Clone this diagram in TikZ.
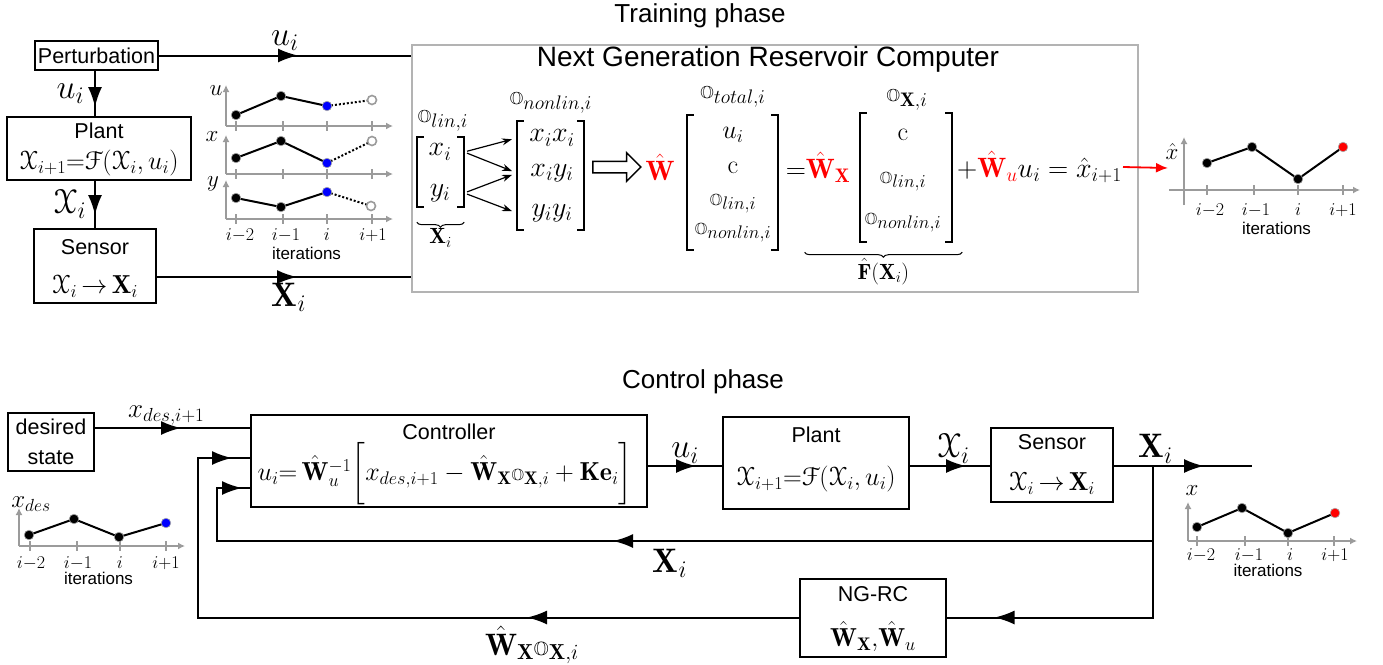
\documentclass[tikz,border=0pt]{standalone}
\usepackage{fix-cm}
\usepackage{fontspec}
\usepackage{amsmath,amssymb}
\usepackage[mathcal]{eucal}
\setsansfont{Liberation Sans}
\usetikzlibrary{positioning,arrows.meta,calc,shapes.arrows,decorations.pathreplacing,decorations.markings}

\definecolor{axisgray}{HTML}{9B9B9B}
\definecolor{framegray}{HTML}{B3B3B3}
\definecolor{wred}{HTML}{FF0000}
\definecolor{nowblue}{HTML}{0000FF}

\newcommand{\Obb}{\mathord{\scalebox{0.62}{$\mathbb{O}$}}}
\newcommand{\plantlaw}{\mathcal{X}_{i+1}{=}\mathcal{F}(\mathcal{X}_i,u_i)}
\newcommand{\sensormap}{\mathcal{X}_i\,{\to}\,\mathbf{X}_i}
\newcommand{\Wxhat}{\hat{\mathbf{W}}_{\mathbf{X}}}
\newcommand{\Wuhat}{\hat{\mathbf{W}}_{u}}

% bracket pair round an empty vector node
\newcommand{\vecbrackets}[1]{%
  \draw[bracket] ([xshift=7pt]#1.north west) -- (#1.north west) -- (#1.south west) -- ([xshift=7pt]#1.south west);
  \draw[bracket] ([xshift=-7pt]#1.north east) -- (#1.north east) -- (#1.south east) -- ([xshift=-7pt]#1.south east);
}

% axes of a small series panel: y-axis x, x-axis y, y-axis top, x-axis end, overhang, ticks
\newcommand{\panelaxes}[6]{%
  \draw[axisline] ({#1-#5},#2) -- (#4,#2);
  \draw[axisline] (#1,{#2+#5}) -- (#1,#3);
  \foreach \t in {#6} \draw[axistick] (\t,{#2-5}) -- (\t,{#2+5});
}

% iteration labels under a panel: prefix, four x positions, label row, caption row
\newcommand{\iterlabels}[7]{%
  \node[ticklab] (#1m2) at (#2,#6) {$i{-}2$};
  \node[ticklab] (#1m1) at (#3,#6) {$i{-}1$};
  \node[ticklab] (#1i) at (#4,#6) {$i$};
  \node[ticklab] (#1p1) at (#5,#6) {$i{+}1$};
  \node[iterlab] (#1it) at ({(#2+#5)/2},#7) {iterations};
}

\begin{document}
\begin{tikzpicture}[x=1pt, y=-1pt,
  blk/.style={draw, line width=2pt, inner sep=0pt},
  blktext/.style={font=\sffamily\fontsize{21.5}{26}\selectfont, inner sep=1pt},
  phase/.style={font=\sffamily\fontsize{26}{30}\selectfont},
  sig/.style={line width=2pt},
  flowarrow/.style={postaction={decorate, decoration={markings,
      mark=at position #1 with {\arrow{Latex[length=20pt,width=14pt]}}}}},
  siglab/.style={font=\fontsize{34}{36}\selectfont, inner sep=2pt},
  eqn/.style={font=\fontsize{26}{30}\selectfont, inner sep=1pt},
  weq/.style={font=\fontsize{28}{30}\selectfont, inner sep=1pt},
  entry/.style={font=\fontsize{28}{30}\selectfont, inner sep=1pt},
  subentry/.style={font=\fontsize{26}{28}\selectfont, inner sep=1pt},
  vecframe/.style={inner sep=0pt},
  bracket/.style={line width=1.6pt},
  brc/.style={decorate, decoration={brace, mirror, amplitude=5pt}, line width=1pt},
  fan/.style={line width=1.2pt, -{Stealth[length=10pt,width=7pt]},
    shorten <=3pt, shorten >=5pt},
  axisline/.style={draw=axisgray, line width=2pt, -{Latex[length=7pt,width=7pt]}},
  axistick/.style={draw=axisgray, line width=1.5pt},
  trace/.style={line width=2pt},
  ticklab/.style={font=\fontsize{18}{20}\selectfont, inner sep=0pt},
  iterlab/.style={font=\sffamily\fontsize{17}{19}\selectfont, inner sep=0pt},
  axlab/.style={font=\fontsize{23}{24}\selectfont, inner sep=0pt},
  pastdot/.style={fill=black, draw=gray!70, line width=0.6pt},
  nowdot/.style={fill=nowblue, draw=gray!70, line width=0.6pt},
  predot/.style={fill=wred, draw=gray!70, line width=0.6pt},
  nextdot/.style={fill=white, draw=axisgray, line width=1.6pt},
  ]
  \useasboundingbox (0,0) rectangle (1383,664);

  %% ---------------- training phase ----------------
  \node[phase] (trainhead) at (700,16) {Training phase};

  \node[draw=framegray, line width=2.5pt, minimum width=726, minimum height=247] (ngrc) at (775,168.5) {};
  \node[phase, font=\sffamily\fontsize{28}{30}\selectfont] (ngrchead) at (768,59) {Next Generation Reservoir Computer};

  \node[blk, minimum width=123, minimum height=29] (pert) at (96.5,55.5) {};
  \node[blktext] (pertt) at (pert.center) {Perturbation};
  \node[blk, minimum width=184, minimum height=63] (plant) at (99,148.5) {};
  \node[blktext] (plantt) at ([yshift=-15pt]plant.north) {Plant};
  \node[eqn] (plantf) at ([yshift=18pt]plant.south) {$\plantlaw$};
  \node[blk, minimum width=122, minimum height=74] (sensor) at (95,266) {};
  \node[blktext] (sensort) at ([yshift=-19pt]sensor.north) {Sensor};
  \node[eqn] (sensorf) at ([yshift=18pt]sensor.south) {$\sensormap$};

  \draw[sig, flowarrow=36pt] (sensor.north |- pert.south) -- (sensor.north |- plant.north)
    node[siglab, midway, left=8pt] (lu2) {$u_i$};
  \draw[sig, flowarrow=34pt] (sensor.north |- plant.south) -- (sensor.north)
    node[siglab, midway, left=6pt] (lx1) {$\mathcal{X}_i$};
  \draw[sig, flowarrow=139pt] (pert.east) -- (pert.east -| ngrc.west)
    node[siglab, pos=0.5, above=2pt] (lu1) {$u_i$};
  \draw[sig, flowarrow=140pt] ([yshift=-11pt]sensor.east) -- ([yshift=-11pt]sensor.east -| ngrc.west)
    node[siglab, pos=0.52, below=3pt] (lX1) {$\mathbf{X}_i$};

  % recorded input and states
  \panelaxes{226}{126}{85}{393}{0}{236,283,327,372}
  \panelaxes{226}{174}{135}{393}{0}{236,283,327,372}
  \panelaxes{226}{219}{180}{393}{0}{236,283,327,372}
  \node[axlab] (ua) at (216,91) {$u$};
  \node[axlab] (xa) at (212,137) {$x$};
  \node[axlab] (ya) at (213,184) {$y$};
  \draw[trace] (236,115) -- (281,96) -- (327,106);
  \draw[trace, dash pattern=on 2pt off 2pt] (327,106) -- (372,100);
  \draw[trace] (236,158) -- (281,141) -- (327,163);
  \draw[trace, dash pattern=on 2pt off 2pt] (327,163) -- (372,141);
  \draw[trace] (236,198) -- (281,207) -- (327,192);
  \draw[trace, dash pattern=on 2pt off 2pt] (327,192) -- (371,206);
  \foreach \p in {(236,115),(281,96),(236,158),(281,141),(236,198),(281,207)}
    \path[pastdot] \p circle (4.8);
  \foreach \p in {(327,106),(327,163),(327,192)}
    \path[nowdot] \p circle (4.8);
  \foreach \p in {(372,100),(372,141),(371,206)}
    \path[nextdot] \p circle (4.5);
  \iterlabels{tl}{240}{286}{327}{373}{235}{253}

  % linear features
  \node[entry] (Olin) at (443,121) {$\Obb_{lin,i}$};
  \node[vecframe, minimum width=47, minimum height=70] (linvec) at (440.5,172) {};
  \node[entry] (xi) at (440,152) {$x_i$};
  \node[entry] (yi) at (440,193) {$y_i$};
  \vecbrackets{linvec}
  \draw[brc] ([yshift=-15pt]linvec.south west) -- ([yshift=-15pt]linvec.south east)
    node[midway, below=5pt, font=\fontsize{22}{24}\selectfont, inner sep=1pt] (linX) {$\mathbf{X}_i$};

  % nonlinear features
  \node[entry] (Ononlin) at (551,103) {$\Obb_{nonlin,i}$};
  \node[vecframe, minimum width=67, minimum height=109] (nonvec) at (550.5,175.5) {};
  \node[entry] (xixi) at (552,138) {$x_ix_i$};
  \node[entry] (xiyi) at (552,173) {$x_iy_i$};
  \node[entry] (yiyi) at (552,213) {$y_iy_i$};
  \vecbrackets{nonvec}
  \draw[fan] (linvec.east |- xi) -- (nonvec.west |- xixi);
  \draw[fan] (linvec.east |- xi) -- (nonvec.west |- xiyi);
  \draw[fan] (linvec.east |- yi) -- (nonvec.west |- xiyi);
  \draw[fan] (linvec.east |- yi) -- (nonvec.west |- yiyi);

  \node[single arrow, draw, line width=1.5pt, minimum height=48, minimum width=27,
    single arrow head extend=8.5pt, inner sep=5pt] (hollow) at (614,167) {};

  % total feature vector and readout
  \node[weq] (W) at (660,167) {$\color{wred}\hat{\mathbf{W}}$};
  \node[entry] (Otot) at (733,97) {$\Obb_{total,i}$};
  \node[vecframe, minimum width=91, minimum height=135] (totvec) at (732.5,182.5) {};
  \node[subentry] (tu) at (733,135) {$u_i$};
  \node[subentry] (tc) at (733,168) {$\mathrm{c}$};
  \node[subentry] (tlin) at (733,204) {$\Obb_{lin,i}$};
  \node[subentry] (tnon) at (733,233) {$\Obb_{nonlin,i}$};
  \vecbrackets{totvec}

  \node[weq] (wx) at (818,167) {${=}{\color{wred}\Wxhat}$};
  \node[entry] (OX) at (907,100) {$\Obb_{\mathbf{X},i}$};
  \node[vecframe, minimum width=92, minimum height=129] (Xvec) at (906,177.5) {};
  \node[subentry] (xc) at (903,135) {$\mathrm{c}$};
  \node[subentry] (xlin) at (903,182) {$\Obb_{lin,i}$};
  \node[subentry] (xnon) at (903,223) {$\Obb_{nonlin,i}$};
  \vecbrackets{Xvec}
  \draw[brc] ([xshift=20pt,yshift=-10pt]Xvec.south -| wx.west) -- ([yshift=-10pt,xshift=10pt]Xvec.south east)
    node[midway, below=5pt, font=\fontsize{22}{24}\selectfont, inner sep=1pt] (Fhat) {$\hat{\mathbf{F}}(\mathbf{X}_i)$};

  \node[weq, anchor=west] (wuterm) at (956,167) {${+}{\color{wred}\Wuhat}u_i=\hat{x}_{i+1}$};
  \coordinate (xhatin) at (1168,168);
  \draw[wred, line width=1.8pt, -{Latex[length=12pt,width=10pt]}] (wuterm.east) -- (xhatin);

  % predicted state
  \panelaxes{1184}{190}{137}{1360}{15}{1207,1254,1298,1343}
  \node[axlab] (xhatlab) at (1172,152) {$\hat{x}$};
  \draw[trace] (1207,163) -- (1252,147) -- (1298,179) -- (1343,147);
  \foreach \p in {(1207,163),(1252,147),(1298,179)}
    \path[pastdot] \p circle (4.8);
  \path[predot] (1343,147) circle (4.8);
  \iterlabels{tr}{1210}{1256}{1298}{1343}{210}{228}

  %% ---------------- control phase ----------------
  \node[phase] (ctrlhead) at (703,382) {Control phase};

  \node[blk, minimum width=86, minimum height=58] (desired) at (51,442) {};
  \node[blktext] (desiredt) at ([yshift=-15pt]desired.north) {desired};
  \node[blktext] (desiredb) at ([yshift=14pt]desired.south) {state};

  \node[blk, minimum width=396, minimum height=92] (ctrl) at (449,461) {};
  \node[blktext] (ctrlt) at ([yshift=-18pt]ctrl.north) {Controller};
  \node[eqn] (ctrlf) at ([xshift=-4pt,yshift=34pt]ctrl.south)
    {$u_i{=}\,\Wuhat^{-1}\bigg[x_{des,i+1}-\Wxhat\Obb_{\mathbf{X},i}+\mathbf{K}\mathbf{e}_i\bigg]$};

  \node[blk, minimum width=186, minimum height=92] (plant2) at (816,463) {};
  \node[blktext] (plant2t) at ([yshift=-19pt]plant2.north) {Plant};
  \node[eqn] (plant2f) at ([yshift=31pt]plant2.south) {$\plantlaw$};

  \node[blk, minimum width=122, minimum height=74] (sensor2) at (1052,464.5) {};
  \node[blktext] (sensor2t) at ([yshift=-16pt]sensor2.north) {Sensor};
  \node[eqn] (sensor2f) at ([yshift=19pt]sensor2.south) {$\sensormap$};

  \node[blk, minimum width=146, minimum height=78] (ngrc2) at (873,617.5) {};
  \node[blktext] (ngrc2t) at ([yshift=-17pt]ngrc2.north) {NG-RC};
  \node[eqn] (ngrc2f) at ([yshift=21pt]ngrc2.south) {$\Wxhat{,}\Wuhat$};

  \draw[sig, flowarrow=86pt] ([yshift=14pt]desired.east) -- ([yshift=14pt]desired.east -| ctrl.west)
    node[siglab, pos=0.46, above=0pt, font=\fontsize{27}{28}\selectfont] (lxdes) {$x_{des,i+1}$};
  \draw[sig, flowarrow=48pt] ([yshift=-5pt]ctrl.east) -- ([yshift=-5pt]ctrl.east -| plant2.west)
    node[siglab, pos=0.5, above=0pt] (lu3) {$u_i$};
  \draw[sig, flowarrow=56pt] ([yshift=-3pt]plant2.east) -- ([yshift=-3pt]plant2.east -| sensor2.west)
    node[siglab, pos=0.54, above=0pt] (lx2) {$\mathcal{X}_i$};
  \coordinate (xout) at (1252,466);
  \coordinate (tap) at (1153,466);
  \draw[sig, flowarrow=90pt] (sensor2.east |- xout) -- (xout)
    node[siglab, pos=0.3, above=0pt] (lX2) {$\mathbf{X}_i$};

  % feedback of the measured state
  \coordinate (fbcorner) at (217,541);
  \draw[sig, flowarrow=615pt, flowarrow=-8pt] (tap) |- (fbcorner) |- ([yshift=-27pt]ctrl.west);
  \node[siglab] (lX3) at (670,563) {$\mathbf{X}_i$};

  % feed-forward from the trained model
  \draw[sig, flowarrow=310pt] (tap) |- (ngrc2.east);
  \draw[sig, flowarrow=272pt, flowarrow=-18pt] (ngrc2.west) -| ([xshift=-52pt,yshift=3pt]ctrl.west) -- ([yshift=3pt]ctrl.west);
  \node[siglab, font=\fontsize{31}{32}\selectfont] (lWO) at (532,645) {$\Wxhat\Obb_{\mathbf{X},i}$};

  % desired trajectory
  \panelaxes{19}{546}{508}{185}{0}{30,77,120,166}
  \node[axlab, font=\fontsize{25}{26}\selectfont] (xdeslab) at (31,504) {$x_{des}$};
  \draw[trace] (29,535) -- (74,519) -- (119,537) -- (166,523);
  \foreach \p in {(29,535),(74,519),(119,537)}
    \path[pastdot] \p circle (4.8);
  \path[nowdot] (166,523) circle (4.8);
  \iterlabels{bl}{31}{78}{120}{166}{563}{578}

  % controlled state
  \panelaxes{1188}{541}{502}{1357}{0}{1197,1245,1288,1334}
  \node[axlab] (xlab) at (1192,491) {$x$};
  \draw[trace] (1197,527) -- (1242,508) -- (1288,533) -- (1335,513);
  \foreach \p in {(1197,527),(1242,508),(1288,533)}
    \path[pastdot] \p circle (4.8);
  \path[predot] (1335,513) circle (4.8);
  \iterlabels{br}{1201}{1249}{1290}{1335}{555}{570}
\end{tikzpicture}
\end{document}
